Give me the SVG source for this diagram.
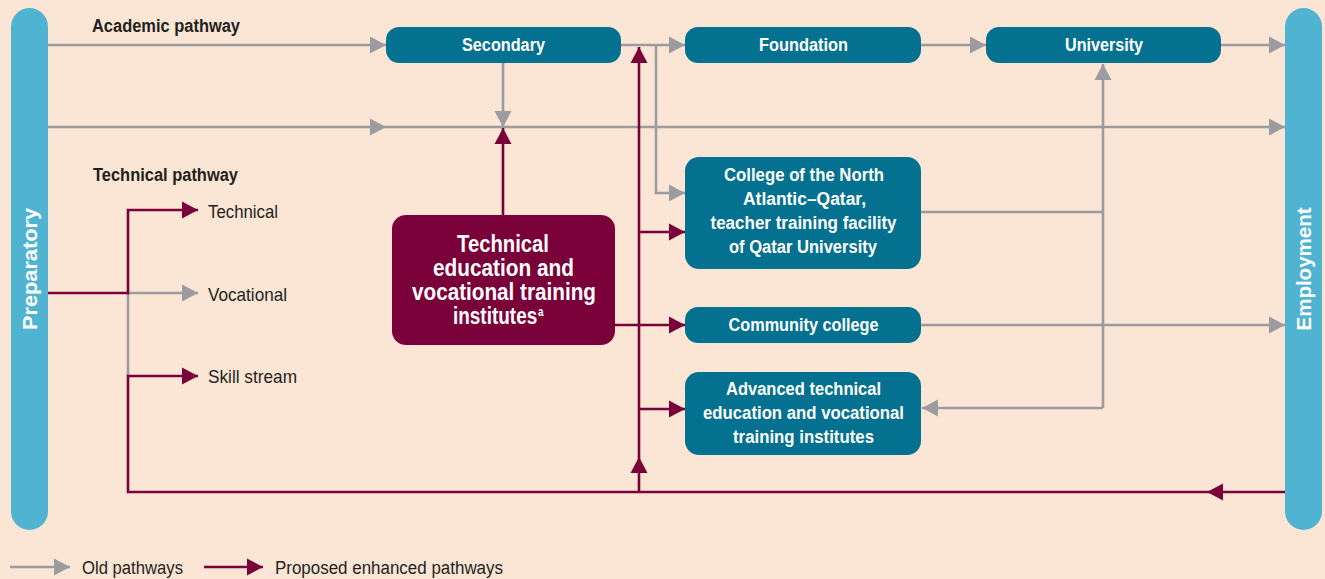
<svg xmlns="http://www.w3.org/2000/svg" width="1325" height="579" viewBox="0 0 1325 579">
<style>
.bg{fill:#FBE6D5}
.bar{fill:#51B3D2}
.box{fill:#03718F}
.tv{fill:#7A0039}
.g{fill:none;stroke:#9B9BA0;stroke-width:2.6}
.m{fill:none;stroke:#7A0039;stroke-width:2.6}
text{font-family:"Liberation Sans",Arial,sans-serif}
.bt{fill:#fff;font-weight:bold;font-size:18px;text-anchor:middle}
.tt{fill:#fff;font-weight:bold;font-size:23px;text-anchor:middle}
.hd{fill:#231F20;font-weight:bold;font-size:18px}
.lb{fill:#231F20;font-size:19px}
.lg{fill:#231F20;font-size:18px}
.vt{fill:#fff;font-weight:bold;font-size:21px;text-anchor:middle}
</style>
<defs>
<marker id="ag" markerWidth="16" markerHeight="18" refX="16" refY="9" orient="auto" markerUnits="userSpaceOnUse"><path d="M0,0.5 L16,9 L0,17.5 Z" fill="#9B9BA0"/></marker>
<marker id="am" markerWidth="16" markerHeight="18" refX="16" refY="9" orient="auto" markerUnits="userSpaceOnUse"><path d="M0,0.5 L16,9 L0,17.5 Z" fill="#7A0039"/></marker>
</defs>
<rect class="bg" x="0" y="0" width="1325" height="579"/>

<g id="preparatory">
<rect class="bar" x="11" y="8" width="37" height="522" rx="18.5"/>
<text class="vt" transform="translate(37,269) rotate(-90)" textLength="122" lengthAdjust="spacingAndGlyphs">Preparatory</text>
</g>
<g id="employment">
<rect class="bar" x="1285" y="8" width="37" height="522" rx="18.5"/>
<text class="vt" transform="translate(1311,269) rotate(-90)" textLength="123" lengthAdjust="spacingAndGlyphs">Employment</text>
</g>

<g id="labels">
<text class="hd" x="92" y="32" textLength="148" lengthAdjust="spacingAndGlyphs">Academic pathway</text>
<text class="hd" x="93" y="181" textLength="145" lengthAdjust="spacingAndGlyphs">Technical pathway</text>
</g>

<g id="connectors">
<path class="g" d="M48,45 H386" marker-end="url(#ag)"/>
<path class="g" d="M621,45 H685" marker-end="url(#ag)"/>
<path class="g" d="M656,45 V193 H685" marker-end="url(#ag)"/>
<path class="g" d="M921,45 H986" marker-end="url(#ag)"/>
<path class="g" d="M1221,45 H1285" marker-end="url(#ag)"/>
<path class="g" d="M48,127 H386" marker-end="url(#ag)"/>
<path class="g" d="M386,127 H1285" marker-end="url(#ag)"/>
<path class="g" d="M503,63 V127" marker-end="url(#ag)"/>
<path class="g" d="M1103,408 V64" marker-end="url(#ag)"/>
<path class="g" d="M921,212 H1103"/>
<path class="g" d="M1103,408 H922" marker-end="url(#ag)"/>
<path class="g" d="M921,325 H1285" marker-end="url(#ag)"/>
<path class="g" d="M128,293 V376"/>
<path class="g" d="M128,293 H198" marker-end="url(#ag)"/>

<path class="m" d="M48,293 H128 V210 H198" marker-end="url(#am)"/>
<path class="m" d="M1285,492 H1207" marker-end="url(#am)"/>
<path class="m" d="M1207,492 H128 V376 H198" marker-end="url(#am)"/>
<path class="m" d="M639,492 V457" marker-end="url(#am)"/>
<path class="m" d="M639,457 V47" marker-end="url(#am)"/>
<path class="m" d="M503,215 V128" marker-end="url(#am)"/>
<path class="m" d="M639,232 H685" marker-end="url(#am)"/>
<path class="m" d="M615,325 H685" marker-end="url(#am)"/>
<path class="m" d="M639,409 H685" marker-end="url(#am)"/>

<path class="g" d="M10,567 H70" marker-end="url(#ag)"/>
<path class="m" d="M204,567 H263" marker-end="url(#am)"/>
</g>

<g id="secondary">
<rect class="box" x="386" y="27" width="235" height="36" rx="13"/>
<text class="bt" x="503.5" y="51" textLength="83" lengthAdjust="spacingAndGlyphs">Secondary</text>
</g>
<g id="foundation">
<rect class="box" x="685" y="27" width="236" height="36" rx="13"/>
<text class="bt" x="803.5" y="51" textLength="89" lengthAdjust="spacingAndGlyphs">Foundation</text>
</g>
<g id="university">
<rect class="box" x="986" y="27" width="235" height="36" rx="13"/>
<text class="bt" x="1104" y="51" textLength="78" lengthAdjust="spacingAndGlyphs">University</text>
</g>

<g id="technical">
<text class="lb" x="208" y="218" textLength="70" lengthAdjust="spacingAndGlyphs">Technical</text>
</g>
<g id="vocational">
<text class="lb" x="208" y="301" textLength="79" lengthAdjust="spacingAndGlyphs">Vocational</text>
</g>
<g id="skill-stream">
<text class="lb" x="208" y="383" textLength="89" lengthAdjust="spacingAndGlyphs">Skill stream</text>
</g>

<g id="tvet">
<rect class="tv" x="392" y="215" width="223" height="130" rx="14"/>
<text class="tt" x="503" y="252" textLength="92" lengthAdjust="spacingAndGlyphs">Technical</text>
<text class="tt" x="503.5" y="276" textLength="141" lengthAdjust="spacingAndGlyphs">education and</text>
<text class="tt" x="504" y="300" textLength="184" lengthAdjust="spacingAndGlyphs">vocational training</text>
<text class="tt" transform="translate(453,324) scale(0.824,1)" x="0" y="0" style="text-anchor:start">institutes<tspan dx="1" dy="-8" font-size="12">a</tspan></text>
</g>

<g id="college">
<rect class="box" x="685" y="157" width="236" height="112" rx="14"/>
<text class="bt" x="804" y="181" textLength="160" lengthAdjust="spacingAndGlyphs">College of the North</text>
<text class="bt" x="804.5" y="205" textLength="123" lengthAdjust="spacingAndGlyphs">Atlantic–Qatar,</text>
<text class="bt" x="803.5" y="229" textLength="186" lengthAdjust="spacingAndGlyphs">teacher training facility</text>
<text class="bt" x="803" y="253" textLength="148" lengthAdjust="spacingAndGlyphs">of Qatar University</text>
</g>
<g id="community">
<rect class="box" x="685" y="307" width="236" height="36" rx="13"/>
<text class="bt" x="803.5" y="331" textLength="150" lengthAdjust="spacingAndGlyphs">Community college</text>
</g>
<g id="advanced">
<rect class="box" x="685" y="372" width="236" height="83" rx="14"/>
<text class="bt" x="803.5" y="395" textLength="155" lengthAdjust="spacingAndGlyphs">Advanced technical</text>
<text class="bt" x="803.5" y="419" textLength="201" lengthAdjust="spacingAndGlyphs">education and vocational</text>
<text class="bt" x="803.5" y="443" textLength="141" lengthAdjust="spacingAndGlyphs">training institutes</text>
</g>

<g id="legend">
<text class="lg" x="82" y="574" textLength="101" lengthAdjust="spacingAndGlyphs">Old pathways</text>
<text class="lg" x="275" y="574" textLength="228" lengthAdjust="spacingAndGlyphs">Proposed enhanced pathways</text>
</g>
</svg>
